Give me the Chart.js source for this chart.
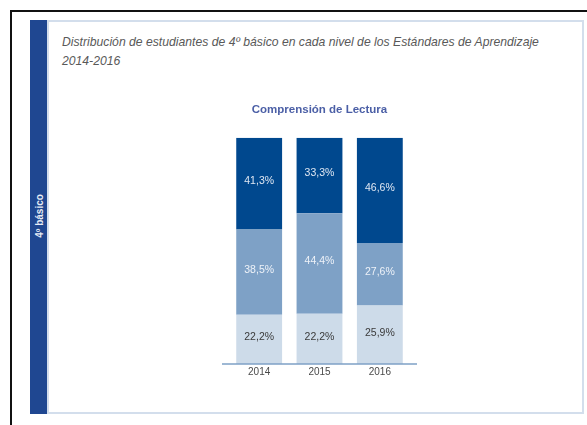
<!DOCTYPE html>
<html lang="es">
<head>
    <meta charset="UTF-8" />
    <title>Comprensión de Lectura 4º básico</title>
    <style>
        body {
            margin: 0;
            width: 587px;
            height: 425px;
            background: #fff;
            position: relative;
            overflow: hidden;
            font-family: "Liberation Sans", sans-serif;
        }
        .frame-top { position: absolute; left: 10px; top: 10px; width: 577px; height: 2px; background: #111; }
        .frame-left { position: absolute; left: 10px; top: 10px; width: 2px; height: 415px; background: #111; }
        .panel {
            position: absolute; left: 46px; top: 20px; width: 533px; height: 390px;
            border: 2px solid #d3deec; border-left-width: 3px;
        }
        .sidebar { position: absolute; left: 30px; top: 20px; width: 17px; height: 394px; background: #1f4791; }
        .sidebar span {
            position: absolute; left: 50%; top: 196px;
            transform: translate(-50%, -50%) rotate(-90deg);
            white-space: nowrap; color: #e8edf6; font-weight: bold; font-size: 10px;
        }
        .heading {
            position: absolute; left: 62px; top: 33px;
            white-space: nowrap;
            font-style: italic; font-size: 12.2px; line-height: 19px; color: #595959;
        }
        #chartBox { position: absolute; left: 200px; top: 90px; width: 240px; height: 300px; }
    </style>
</head>
<body>
    <div class="frame-top"></div>
    <div class="frame-left"></div>
    <div class="panel"></div>
    <div class="sidebar"><span>4º básico</span></div>
    <div class="heading">Distribución de estudiantes de 4º básico en cada nivel de los Estándares de Aprendizaje<br>2014-2016</div>

    <div id="chartBox"><canvas id="lecturaChart" width="240" height="300"></canvas></div>

    <script src="https://cdn.jsdelivr.net/npm/chart.js"></script>
    <script>
        // data (percentages printed on the bars)
        const years = ['2014', '2015', '2016'];
        const bajo = [22.2, 22.2, 25.9];      // light segment (bottom)
        const medio = [38.5, 44.4, 27.6];     // middle segment
        const alto = [41.3, 33.3, 46.6];      // dark segment (top)

        // 100% stacked: each bar is drawn as share of the year total
        const totals = years.map((y, i) => bajo[i] + medio[i] + alto[i]);
        function share(arr) {
            return arr.map((v, i) => v / totals[i] * 100);
        }

        const FONT = '"Liberation Sans", sans-serif';

        const valueLabels = {
            id: 'valueLabels',
            afterDatasetsDraw(chart) {
                const ctx = chart.ctx;
                ctx.save();
                ctx.font = '10.5px ' + FONT;
                ctx.textAlign = 'center';
                ctx.textBaseline = 'middle';
                chart.data.datasets.forEach((ds, di) => {
                    const meta = chart.getDatasetMeta(di);
                    meta.data.forEach((bar, i) => {
                        const txt = ds.raw[i].toFixed(1).replace('.', ',') + '%';
                        ctx.fillStyle = ds.labelColor;
                        ctx.fillText(txt, bar.x, (bar.y + bar.base) / 2 - 2);
                    });
                });
                // axis line, a little wider than the bars
                const area = chart.chartArea;
                const y0 = chart.scales.y.getPixelForValue(0);
                ctx.strokeStyle = '#7ea1c6';
                ctx.lineWidth = 1.5;
                ctx.beginPath();
                ctx.moveTo(area.left - 7, y0);
                ctx.lineTo(area.right + 7, y0);
                ctx.stroke();
                ctx.restore();
            }
        };

        new Chart(document.getElementById('lecturaChart'), {
            type: 'bar',
            data: {
                labels: years,
                datasets: [
                    { label: 'bajo', data: share(bajo), raw: bajo, backgroundColor: '#cddbe9', labelColor: '#3a3a3a' },
                    { label: 'medio', data: share(medio), raw: medio, backgroundColor: '#7ea1c6', labelColor: '#eef2f8' },
                    { label: 'alto', data: share(alto), raw: alto, backgroundColor: '#00488e', labelColor: '#dfe7f2' }
                ]
            },
            options: {
                responsive: false,
                animation: false,
                layout: { padding: { left: 29, right: 30, top: 0, bottom: 10 } },
                barPercentage: 0.76,
                categoryPercentage: 1,
                plugins: {
                    legend: { display: false },
                    tooltip: { enabled: false },
                    title: {
                        display: true,
                        text: 'Comprensión de Lectura',
                        color: '#4b5fa6',
                        font: { family: FONT, size: 11.5, weight: 'bold' },
                        padding: { top: 13, bottom: 21 }
                    }
                },
                scales: {
                    x: {
                        stacked: true,
                        grid: { display: false, drawTicks: false },
                        border: { display: false },
                        ticks: {
                            color: '#4a4a4a',
                            padding: 2,
                            font: { family: FONT, size: 10 }
                        }
                    },
                    y: {
                        stacked: true,
                        display: false,
                        min: 0,
                        max: 100
                    }
                }
            },
            plugins: [valueLabels]
        });
    </script>
</body>
</html>
